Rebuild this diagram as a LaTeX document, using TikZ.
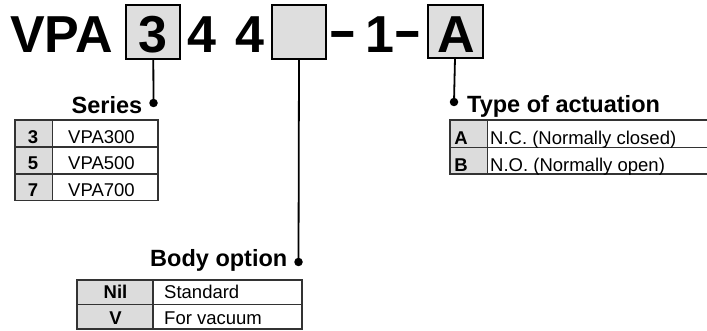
\documentclass[tikz,border=0pt]{standalone}
\usepackage{fontspec}
\usepackage{graphicx}
\setmainfont{Liberation Sans}
\definecolor{boxgray}{HTML}{DEDEDE}
\definecolor{keygray}{HTML}{DCDCDC}
\definecolor{rulegray}{HTML}{333333}
\begin{document}
\begin{tikzpicture}[x=1pt,y=-1pt,
  big/.style={inner sep=0pt,font=\fontsize{52}{52}\selectfont\bfseries},
  bigbox/.style={draw=black,line width=1.8pt,fill=boxgray},
  head/.style={inner sep=0pt,font=\fontsize{23.5}{23.5}\selectfont\bfseries},
  keytxt/.style={inner sep=0pt,font=\fontsize{18.5}{18.5}\selectfont\bfseries},
  valtxt/.style={inner sep=0pt,font=\fontsize{18.5}{18.5}\selectfont},
  leader/.style={line width=1.8pt,black},
  dotnode/.style={circle,fill=black,inner sep=0pt,minimum size=8.5pt},
  tabrule/.style={draw=rulegray,line width=1.3pt},
  keycell/.style={fill=keygray}
]
\useasboundingbox (0,0) rectangle (707,331);

% --- model code boxes
\draw[bigbox] (126,5) rectangle (180,59);
\draw[bigbox] (272,5) rectangle (326,59);
\draw[bigbox] (428,5) rectangle (483,58);
\coordinate (b3) at (153.3,59);
\coordinate (bb) at (299,59);
\coordinate (ba) at (455,58);

\node[big,anchor=base west] (vpa) at (10,52.5) {VPA};
\node[big,anchor=base] (t3) at (153,53) {3};
\node[big,anchor=base] (t4a) at (202,53) {4};
\node[big,anchor=base] (t4b) at (250,53) {4};
\node[big,anchor=base] (d1) at (343,50.5) {\scalebox{0.85}[1.15]{–}};
\node[big,anchor=base] (t1) at (380,53) {1};
\node[big,anchor=base] (d2) at (407.5,50.5) {\scalebox{0.85}[1.15]{–}};
\node[big,anchor=base] (tA) at (456,53) {A};

% --- leaders
\node[dotnode] (dS) at (153.5,103) {};
\node[dotnode] (dT) at (454,102) {};
\node[dotnode] (dB) at (298.5,262) {};
\draw[leader] (b3) -- (dS.center);
\draw[leader] (ba) -- (dT.center);
\draw[leader] (bb) -- (dB.center);

% --- headers
\node[head,anchor=base east] (hS) at (142.5,113.3) {Series};
\node[head,anchor=base west] (hT) at (467,113) {Type of actuation};
\node[head,anchor=base east] (hB) at (287.5,266.7) {Body option};

% --- Series table
\fill[keycell] (15,120) rectangle (52.7,200.7);
\draw[tabrule] (15,120) rectangle (158,200.7);
\draw[tabrule] (15,147) -- (158,147);
\draw[tabrule] (15,174) -- (158,174);
\draw[tabrule] (52.7,120) -- (52.7,200.7);
\draw[tabrule,line width=1.8pt] (15,120) -- (158,120);
\node[keytxt,anchor=base] (s3) at (33,143.3) {3};
\node[keytxt,anchor=base] (s5) at (33,170) {5};
\node[keytxt,anchor=base] (s7) at (33,196.7) {7};
\node[valtxt,anchor=base west] (v3) at (68,143.3) {VPA300};
\node[valtxt,anchor=base west] (v5) at (68,170) {VPA500};
\node[valtxt,anchor=base west] (v7) at (68,196.7) {VPA700};

% --- Type of actuation table
\fill[keycell] (450,120) rectangle (487.7,174);
\draw[tabrule] (712,120) -- (450,120) -- (450,174) -- (712,174);
\draw[tabrule] (450,147.3) -- (712,147.3);
\draw[tabrule] (487.7,120) -- (487.7,174);
\draw[tabrule,line width=1.8pt] (450,120) -- (712,120);
\node[keytxt,anchor=base] (kA) at (461,145) {A};
\node[keytxt,anchor=base] (kB) at (461,171.7) {B};
\node[valtxt,anchor=base west] (vA) at (490,145) {N.C. (Normally closed)};
\node[valtxt,anchor=base west] (vB) at (490,171.7) {N.O. (Normally open)};

% --- Body option table
\fill[keycell] (77,280) rectangle (153,329);
\draw[tabrule] (77,280) rectangle (302,329);
\draw[tabrule] (77,304.5) -- (302,304.5);
\draw[tabrule] (153,280) -- (153,329);
\draw[tabrule,line width=1.8pt] (77,280) -- (302,280);
\node[keytxt,anchor=base] (kN) at (115.5,298.3) {Nil};
\node[keytxt,anchor=base] (kV) at (115.5,324) {V};
\node[valtxt,anchor=base west] (vN) at (164,298.3) {Standard};
\node[valtxt,anchor=base west] (vV) at (164,324) {For vacuum};
\end{tikzpicture}
\end{document}
